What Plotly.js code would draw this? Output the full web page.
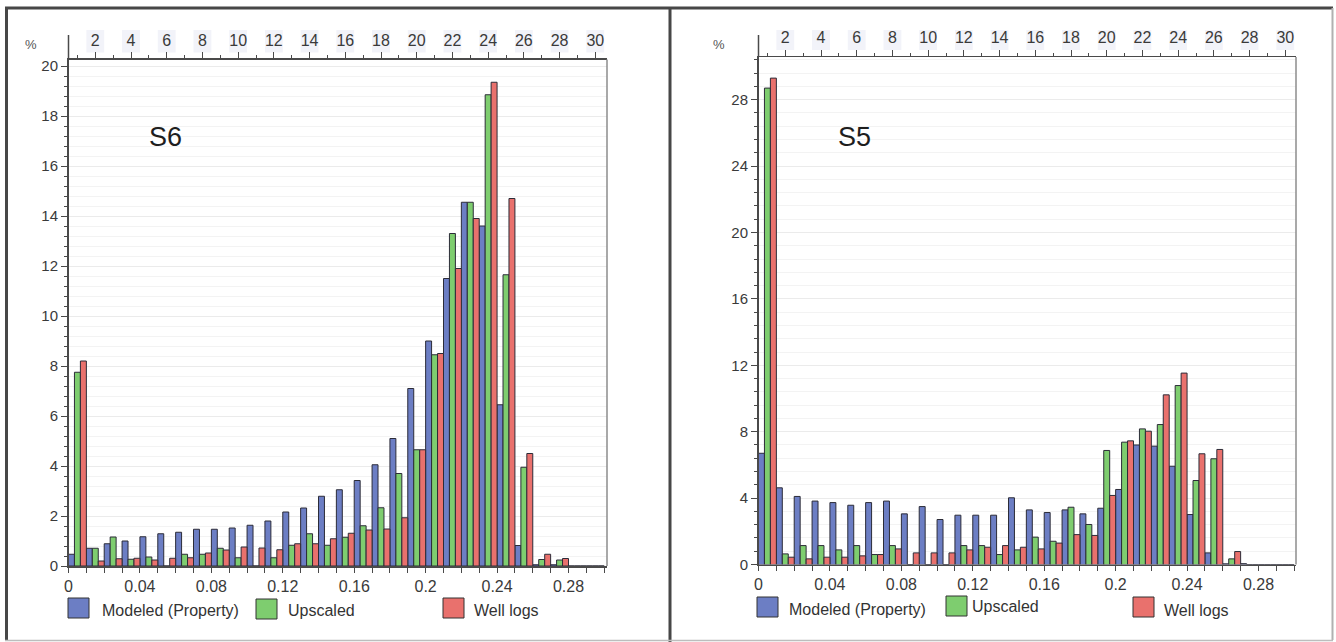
<!DOCTYPE html>
<html>
<head>
<meta charset="utf-8">
<script src="https://cdn.plot.ly/plotly-3.0.1.min.js"></script>
<style>
  html, body { margin: 0; padding: 0; background: #fff; overflow: hidden; }
  #chart { width: 1336px; height: 642px; }
</style>
</head>
<body>
<div id="chart"></div>
<script>
// Porosity histogram bins (bin centres, fraction), bin width 0.01
const porosityBins = [0.005, 0.015, 0.025, 0.035, 0.045, 0.055, 0.065, 0.075, 0.085, 0.095,
                      0.105, 0.115, 0.125, 0.135, 0.145, 0.155, 0.165, 0.175, 0.185, 0.195,
                      0.205, 0.215, 0.225, 0.235, 0.245, 0.255, 0.265, 0.275, 0.285, 0.295];
const binNumbers = [2, 4, 6, 8, 10, 12, 14, 16, 18, 20, 22, 24, 26, 28, 30];
const porosityTicks = [0, 0.04, 0.08, 0.12, 0.16, 0.2, 0.24, 0.28];
const porosityTickText = ['0', '0.04', '0.08', '0.12', '0.16', '0.2', '0.24', '0.28'];

const seriesNames = ['Modeled (Property)', 'Upscaled', 'Well logs'];
const seriesColors = ['#6c7ec4', '#7ecd6f', '#e9716d'];

// Zone S6, frequency in %
const s6Modeled  = [0.47, 0.71, 0.89, 1.0, 1.17, 1.29, 1.35, 1.47, 1.47, 1.52, 1.63, 1.8, 2.16, 2.32, 2.79,
                    3.05, 3.42, 4.05, 5.1, 7.1, 9.0, 11.5, 14.55, 13.6, 6.45, 0.82, 0.05, 0.05, 0, 0];
const s6Upscaled = [7.75, 0.71, 1.16, 0.27, 0.36, 0, 0.47, 0.47, 0.71, 0.33, 0, 0.33, 0.83, 1.29, 0.83,
                    1.15, 1.61, 2.33, 3.7, 4.65, 8.45, 13.3, 14.55, 18.85, 11.65, 3.95, 0.26, 0.24, 0, 0];
const s6WellLogs = [8.2, 0.2, 0.29, 0.31, 0.24, 0.31, 0.33, 0.52, 0.64, 0.76, 0.72, 0.65, 0.89, 0.89, 1.09,
                    1.31, 1.44, 1.48, 1.93, 4.65, 8.5, 11.9, 13.9, 19.35, 14.7, 4.5, 0.47, 0.3, 0, 0];
const s6YTicks = [0, 2, 4, 6, 8, 10, 12, 14, 16, 18, 20];

// Zone S5, frequency in %
const s5Modeled  = [6.7, 4.62, 4.1, 3.82, 3.73, 3.57, 3.73, 3.82, 3.05, 3.49, 2.71, 2.97, 2.97, 2.97, 4.02,
                    3.29, 3.13, 3.29, 3.05, 3.39, 4.52, 7.2, 7.13, 5.92, 3.01, 0.7, 0.04, 0.05, 0, 0];
const s5Upscaled = [28.7, 0.64, 1.14, 1.14, 0.88, 1.14, 0.6, 1.14, 0, 0, 0, 1.14, 1.14, 0.6, 0.88,
                    1.65, 1.4, 3.45, 2.41, 6.87, 7.37, 8.17, 8.43, 10.78, 5.06, 6.37, 0.34, 0, 0, 0];
const s5WellLogs = [29.3, 0.44, 0.34, 0.44, 0.44, 0.52, 0.6, 0.94, 0.7, 0.7, 0.7, 0.88, 1.04, 1.14, 1.04,
                    0.94, 1.29, 1.8, 1.75, 4.16, 7.45, 8.03, 10.22, 11.53, 6.67, 6.93, 0.78, 0, 0, 0];
const s5YTicks = [0, 4, 8, 12, 16, 20, 24, 28];

// ---- page geometry (pixels) ----
const W = 1336, H = 642;
const fx = p => p / W;
const fy = p => 1 - p / H;
const PX_PER_UNIT = 1785.7;          // horizontal pixels per 1.0 of porosity

const tickFont = { family: 'Liberation Sans Narrow, Liberation Sans, Arial, sans-serif', size: 16, color: '#3a3a3a' };
const yTickFont = { family: 'Liberation Sans Narrow, Liberation Sans, Arial, sans-serif', size: 15, color: '#3a3a3a' };
const textFont = { family: 'Liberation Sans, Arial, sans-serif', size: 16, color: '#333' };
const axisColor = '#4a4a4a';

const panels = [
  {
    name: 'S6', series: [s6Modeled, s6Upscaled, s6WellLogs], yTicks: s6YTicks, yMinor: 0.4,
    left: 68.5, right: 607, base: 566, top: 59.5, pxPerPct: 25,
    xa: 'x', ya: 'y', xt: 'x3',
    label: { x: 165.5, y: 137.5 }, pct: { x: 31, y: 44 },
    legend: [ { sx: 68, sy: 598, tx: 100, ty: 610 },
              { sx: 256, sy: 599, tx: 286, ty: 610 },
              { sx: 443, sy: 598, tx: 472, ty: 610 } ]
  },
  {
    name: 'S5', series: [s5Modeled, s5Upscaled, s5WellLogs], yTicks: s5YTicks, yMinor: 0.8,
    left: 758.5, right: 1296, base: 564.5, top: 57, pxPerPct: 16.6,
    xa: 'x2', ya: 'y2', xt: 'x4',
    label: { x: 855, y: 137 }, pct: { x: 719, y: 44 },
    legend: [ { sx: 757, sy: 597, tx: 787, ty: 609 },
              { sx: 946, sy: 596, tx: 970, ty: 606 },
              { sx: 1133, sy: 597, tx: 1162, ty: 610 } ]
  }
];

const axKey = id => (id[0] === 'x' ? 'xaxis' : 'yaxis') + id.slice(1);

const traces = [];
const layout = {
  width: W, height: H, autosize: false,
  margin: { l: 0, r: 0, t: 0, b: 0 },
  paper_bgcolor: '#fff', plot_bgcolor: '#fff',
  showlegend: false,
  barmode: 'group', bargap: 0, bargroupgap: 0,
  shapes: [], annotations: []
};

panels.forEach(p => {
  const xMax = (p.right - p.left) / PX_PER_UNIT;
  const yMax = (p.base - p.top) / p.pxPerPct;

  p.series.forEach((vals, i) => {
    traces.push({
      type: 'bar', name: seriesNames[i], x: porosityBins, y: vals,
      xaxis: p.xa, yaxis: p.ya,
      marker: { color: seriesColors[i], line: { color: '#2c2c38', width: 1 } },
      hoverinfo: 'x+y+name'
    });
  });

  layout[axKey(p.xa)] = {
    domain: [fx(p.left), fx(p.right)], anchor: p.ya, range: [0, xMax],
    showline: true, linecolor: axisColor, linewidth: 1.5,
    ticks: 'outside', ticklen: 5, tickcolor: axisColor, tickwidth: 1,
    tickmode: 'array', tickvals: porosityTicks, ticktext: porosityTickText,
    minor: { tick0: 0, dtick: 0.01, ticks: 'outside', ticklen: 5, tickcolor: axisColor, showgrid: false },
    showgrid: false, zeroline: false, fixedrange: true,
    tickfont: tickFont
  };
  layout[axKey(p.xt)] = {
    overlaying: p.xa, anchor: p.ya, side: 'top',
    range: [0.5, 0.5 + xMax * 100],
    showline: true, linecolor: axisColor, linewidth: 1.5,
    ticks: 'outside', ticklen: 6, tickcolor: axisColor, tickwidth: 1,
    tickmode: 'array', tickvals: binNumbers,
    minor: { tick0: 0, dtick: 1, ticks: 'outside', ticklen: 3, tickcolor: axisColor, showgrid: false },
    showgrid: false, zeroline: false, fixedrange: true,
    tickfont: tickFont
  };
  layout[axKey(p.ya)] = {
    domain: [fy(p.base), fy(p.top)], anchor: p.xa, range: [0, yMax],
    showline: true, linecolor: axisColor, linewidth: 1.5,
    ticks: 'outside', ticklen: 6, tickcolor: axisColor, tickwidth: 1,
    tickmode: 'array', tickvals: p.yTicks,
    minor: { tick0: 0, dtick: p.yMinor, ticks: 'outside', ticklen: 3, tickcolor: axisColor,
             showgrid: true, gridcolor: '#f3f3f3', gridwidth: 1 },
    showgrid: true, gridcolor: '#ebebeb', gridwidth: 1,
    zeroline: false, fixedrange: true,
    tickfont: yTickFont
  };

  // faint boxes behind the bin-number labels
  binNumbers.forEach(n => {
    layout.shapes.push({
      type: 'rect', layer: 'below', xref: p.xt, yref: 'paper',
      x0: n - 0.5, x1: n + 0.5, y0: fy(p.top - 7), y1: fy(30),
      fillcolor: '#f2f3f9', line: { width: 0 }
    });
  });
  // vertical axis continues above the bin-number scale
  layout.shapes.push({
    type: 'line', xref: p.xa + ' domain', yref: 'paper',
    x0: 0, x1: 0, y0: fy(p.top), y1: fy(35),
    line: { color: axisColor, width: 1.5 }
  });
  // right edge of the plotting area
  layout.shapes.push({
    type: 'line', xref: p.xa + ' domain', yref: p.ya + ' domain',
    x0: 1, x1: 1, y0: 0, y1: 1,
    line: { color: '#8c8c8c', width: 1.5 }
  });

  // zone label and unit
  layout.annotations.push({
    text: p.name, xref: 'paper', yref: 'paper', x: fx(p.label.x), y: fy(p.label.y),
    xanchor: 'center', yanchor: 'middle', showarrow: false,
    font: { family: 'Liberation Sans, Arial, sans-serif', size: 27, color: '#1e1e1e' }
  });
  layout.annotations.push({
    text: '%', xref: 'paper', yref: 'paper', x: fx(p.pct.x), y: fy(p.pct.y),
    xanchor: 'center', yanchor: 'middle', showarrow: false,
    font: { family: 'Liberation Sans Narrow, Liberation Sans, Arial, sans-serif', size: 13, color: '#555' }
  });

  // legend row
  p.legend.forEach((e, i) => {
    layout.shapes.push({
      type: 'rect', xref: 'paper', yref: 'paper',
      x0: fx(e.sx), x1: fx(e.sx + 21), y0: fy(e.sy), y1: fy(e.sy + 20),
      fillcolor: seriesColors[i], line: { color: '#333', width: 1 }
    });
    layout.annotations.push({
      text: seriesNames[i], xref: 'paper', yref: 'paper', x: fx(e.tx), y: fy(e.ty),
      xanchor: 'left', yanchor: 'middle', showarrow: false, font: textFont
    });
  });
});

// panel frames
const frameLine = (x0, y0, x1, y1, color, width) => ({
  type: 'line', xref: 'paper', yref: 'paper',
  x0: fx(x0), y0: fy(y0), x1: fx(x1), y1: fy(y1), line: { color, width }
});
layout.shapes.push(
  frameLine(5, 8, 1333, 8, '#474747', 3),
  frameLine(6.5, 8, 6.5, 640, '#474747', 3),
  frameLine(670, 8, 670, 642, '#474747', 3),
  frameLine(1332.5, 8, 1332.5, 640, '#b0b0b0', 2),
  frameLine(5, 640.5, 1333, 640.5, '#bdbdbd', 1.5)
);

Plotly.newPlot('chart', traces, layout, { displayModeBar: false, staticPlot: true });
</script>
</body>
</html>
